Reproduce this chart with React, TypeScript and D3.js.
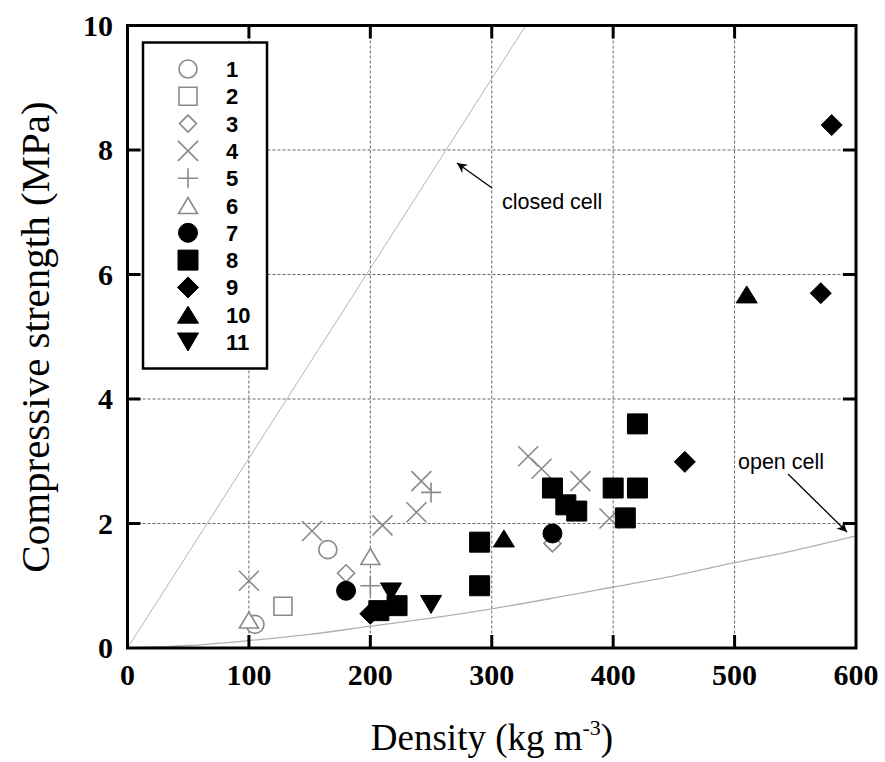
import React from 'react';
import * as d3 from 'd3';

// ---- data ----
const densityTicks = [0, 100, 200, 300, 400, 500, 600];
const strengthTicks = [0, 2, 4, 6, 8, 10];
const seriesLabels = ['1', '2', '3', '4', '5', '6', '7', '8', '9', '10', '11'];

const s1Density = [105, 165];
const s1Strength = [0.38, 1.58];
const s2Density = [128];
const s2Strength = [0.67];
const s3Density = [180, 350];
const s3Strength = [1.2, 1.68];
const s4Density = [100, 152, 210, 238, 242, 330, 341, 373, 397];
const s4Strength = [1.08, 1.88, 1.97, 2.18, 2.68, 3.08, 2.88, 2.68, 2.08];
const s5Density = [200, 250];
const s5Strength = [1.0, 2.5];
const s6Density = [100, 200];
const s6Strength = [0.45, 1.47];
const s7Density = [180, 350];
const s7Strength = [0.92, 1.84];
const s8Density = [207, 222, 290, 290, 350, 361, 370, 400, 410, 420, 420];
const s8Strength = [0.6, 0.68, 1.7, 1.0, 2.57, 2.3, 2.2, 2.57, 2.09, 2.57, 3.6];
const s9Density = [200, 459, 571, 580];
const s9Strength = [0.55, 2.99, 5.7, 8.4];
const s10Density = [310, 510];
const s10Strength = [1.76, 5.68];
const s11Density = [217, 250];
const s11Strength = [0.9, 0.7];

const closedCellDensity = [0, 328];
const closedCellStrength = [0, 10];
const openCellDensity = [0, 50, 100, 150, 200, 250, 300, 350, 400, 450, 500, 550, 600];
const openCellStrength = [0, 0.04, 0.12, 0.22, 0.35, 0.48, 0.63, 0.8, 0.98, 1.16, 1.37, 1.57, 1.8];

type Shape = 'circle' | 'square' | 'diamond' | 'times' | 'plus' | 'triUp' | 'triDown';

const seriesTable = [
  { label: seriesLabels[0], xs: s1Density, ys: s1Strength, shape: 'circle' as Shape, filled: false },
  { label: seriesLabels[1], xs: s2Density, ys: s2Strength, shape: 'square' as Shape, filled: false },
  { label: seriesLabels[2], xs: s3Density, ys: s3Strength, shape: 'diamond' as Shape, filled: false },
  { label: seriesLabels[3], xs: s4Density, ys: s4Strength, shape: 'times' as Shape, filled: false },
  { label: seriesLabels[4], xs: s5Density, ys: s5Strength, shape: 'plus' as Shape, filled: false },
  { label: seriesLabels[5], xs: s6Density, ys: s6Strength, shape: 'triUp' as Shape, filled: false },
  { label: seriesLabels[6], xs: s7Density, ys: s7Strength, shape: 'circle' as Shape, filled: true },
  { label: seriesLabels[7], xs: s8Density, ys: s8Strength, shape: 'square' as Shape, filled: true },
  { label: seriesLabels[8], xs: s9Density, ys: s9Strength, shape: 'diamond' as Shape, filled: true },
  { label: seriesLabels[9], xs: s10Density, ys: s10Strength, shape: 'triUp' as Shape, filled: true },
  { label: seriesLabels[10], xs: s11Density, ys: s11Strength, shape: 'triDown' as Shape, filled: true },
];

const OPEN = '#8a8a8a';

function markerPath(shape: Shape, filled: boolean): string {
  const p = d3.path();
  if (shape === 'circle') {
    const r = filled ? 9.5 : 9;
    p.moveTo(r, 0);
    p.arc(0, 0, r, 0, Math.PI * 2);
  } else if (shape === 'square') {
    const h = filled ? 10 : 9;
    p.rect(-h, -h, 2 * h, 2 * h);
  } else if (shape === 'diamond') {
    const h = filled ? 10.5 : 8.5;
    p.moveTo(0, -h); p.lineTo(h, 0); p.lineTo(0, h); p.lineTo(-h, 0); p.closePath();
  } else if (shape === 'times') {
    const h = 10;
    p.moveTo(-h, -h); p.lineTo(h, h); p.moveTo(-h, h); p.lineTo(h, -h);
  } else if (shape === 'plus') {
    const h = 10;
    p.moveTo(-h, 0); p.lineTo(h, 0); p.moveTo(0, -h); p.lineTo(0, h);
  } else if (shape === 'triUp') {
    const w = filled ? 10.5 : 9.5, hh = filled ? 8.5 : 8;
    p.moveTo(0, -hh); p.lineTo(w, hh); p.lineTo(-w, hh); p.closePath();
  } else {
    const w = 10.5, hh = 9;
    p.moveTo(-w, -hh); p.lineTo(w, -hh); p.lineTo(0, hh); p.closePath();
  }
  return p.toString();
}

function Marker({ shape, filled, x, y }: { shape: Shape; filled: boolean; x: number; y: number }) {
  const d = markerPath(shape, filled);
  return (
    <path
      d={d}
      transform={`translate(${x},${y})`}
      fill={filled ? '#000' : shape === 'times' || shape === 'plus' ? 'none' : '#fff'}
      stroke={filled ? '#000' : OPEN}
      strokeWidth={filled ? 1 : 1.6}
    />
  );
}

export default function App() {
  const W = 885, H = 762;
  const left = 127.5, right = 856, top = 25.5, bottom = 648;
  const x = d3.scaleLinear().domain([0, 600]).range([left, right]);
  const y = d3.scaleLinear().domain([0, 10]).range([bottom, top]);

  const line = d3.line<[number, number]>().x(d => x(d[0])).y(d => y(d[1]));
  const closedPts: [number, number][] = closedCellDensity.map((d, i) => [d, closedCellStrength[i]]);
  const openPts: [number, number][] = openCellDensity.map((d, i) => [d, openCellStrength[i]]);
  const openLine = d3.line<[number, number]>().x(d => x(d[0])).y(d => y(d[1])).curve(d3.curveMonotoneX);

  const tickLen = 13;
  const serif = '"Liberation Serif", "Times New Roman", serif';
  const sans = '"Liberation Sans", Arial, sans-serif';

  // legend layout
  const lgX = 143, lgY = 42.5, lgW = 124, lgH = 326;
  const lgRow0 = 69, lgStep = 27.3;

  return (
    <svg width={W} height={H} style={{ position: 'absolute', left: 0, top: 0, background: '#fff' }}>
      <defs>
        <clipPath id="plotclip">
          <rect x={left} y={top} width={right - left} height={bottom - top} />
        </clipPath>
        <marker id="arrow" viewBox="0 0 10 10" refX="10" refY="5" markerWidth="12" markerHeight="10" markerUnits="userSpaceOnUse" orient="auto">
          <path d="M0,0 L10,5 L0,10 L3,5 z" fill="#000" />
        </marker>
      </defs>
      <rect x={0} y={0} width={W} height={H} fill="#fff" />

      {/* grid */}
      {densityTicks.filter(t => t > 0 && t < 600).map(t => (
        <line key={'gx' + t} x1={x(t)} x2={x(t)} y1={top} y2={bottom} stroke="#666" strokeWidth={1} strokeDasharray="3,2" />
      ))}
      {strengthTicks.filter(t => t > 0 && t < 10).map(t => (
        <line key={'gy' + t} x1={left} x2={right} y1={y(t)} y2={y(t)} stroke="#666" strokeWidth={1} strokeDasharray="3,2" />
      ))}

      {/* model curves */}
      <g clipPath="url(#plotclip)">
        <path d={line(closedPts) || ''} fill="none" stroke="#b5b5b5" strokeWidth={1} />
        <path d={openLine(openPts) || ''} fill="none" stroke="#b0b0b0" strokeWidth={1.3} />
      </g>

      {/* data */}
      {seriesTable.map(s => (
        <g key={'s' + s.label}>
          {s.xs.map((dx, i) => (
            <Marker key={i} shape={s.shape} filled={s.filled} x={x(dx)} y={y(s.ys[i])} />
          ))}
        </g>
      ))}

      {/* annotations */}
      <line x1={492} y1={188} x2={457} y2={163} stroke="#000" strokeWidth={1.3} markerEnd="url(#arrow)" />
      <text x={502} y={209} fontFamily={sans} fontSize={21.5} fill="#000">closed cell</text>
      <line x1={788} y1={474} x2={847} y2={532} stroke="#000" strokeWidth={1.3} markerEnd="url(#arrow)" />
      <text x={738} y={469} fontFamily={sans} fontSize={21.5} fill="#000">open cell</text>

      {/* ticks */}
      {densityTicks.filter(t => t > 0 && t < 600).map(t => (
        <g key={'tx' + t}>
          <line x1={x(t)} x2={x(t)} y1={bottom} y2={bottom - tickLen} stroke="#000" strokeWidth={3} />
          <line x1={x(t)} x2={x(t)} y1={top} y2={top + tickLen} stroke="#000" strokeWidth={3} />
        </g>
      ))}
      {strengthTicks.filter(t => t > 0 && t < 10).map(t => (
        <g key={'ty' + t}>
          <line x1={left} x2={left + tickLen} y1={y(t)} y2={y(t)} stroke="#000" strokeWidth={3} />
          <line x1={right} x2={right - tickLen} y1={y(t)} y2={y(t)} stroke="#000" strokeWidth={3} />
        </g>
      ))}

      {/* frame */}
      <rect x={left} y={top} width={right - left} height={bottom - top} fill="none" stroke="#000" strokeWidth={3} />

      {/* legend */}
      <rect x={lgX} y={lgY} width={lgW} height={lgH} fill="#fff" stroke="#000" strokeWidth={2.5} />
      {seriesTable.map((s, i) => (
        <g key={'lg' + s.label}>
          <Marker shape={s.shape} filled={s.filled} x={188} y={lgRow0 + i * lgStep} />
          <text x={226} y={lgRow0 + i * lgStep + 8} fontFamily={sans} fontWeight="bold" fontSize={22} fill="#000">{s.label}</text>
        </g>
      ))}

      {/* tick labels */}
      {densityTicks.map(t => (
        <text key={'lx' + t} x={x(t)} y={685} textAnchor="middle" fontFamily={serif} fontWeight="bold" fontSize={30} fill="#000">{t}</text>
      ))}
      {strengthTicks.map(t => (
        <text key={'ly' + t} x={113} y={y(t) + 10} textAnchor="end" fontFamily={serif} fontWeight="bold" fontSize={30} fill="#000">{t}</text>
      ))}

      {/* axis titles */}
      <text x={492} y={750} textAnchor="middle" fontFamily={serif} fontSize={37} fill="#000">
        Density (kg m<tspan fontSize={22} dy={-15}>-3</tspan><tspan dy={15}>)</tspan>
      </text>
      <text transform="translate(49,337) rotate(-90)" textAnchor="middle" fontFamily={serif} fontSize={41} fill="#000">
        Compressive strength (MPa)
      </text>
    </svg>
  );
}
